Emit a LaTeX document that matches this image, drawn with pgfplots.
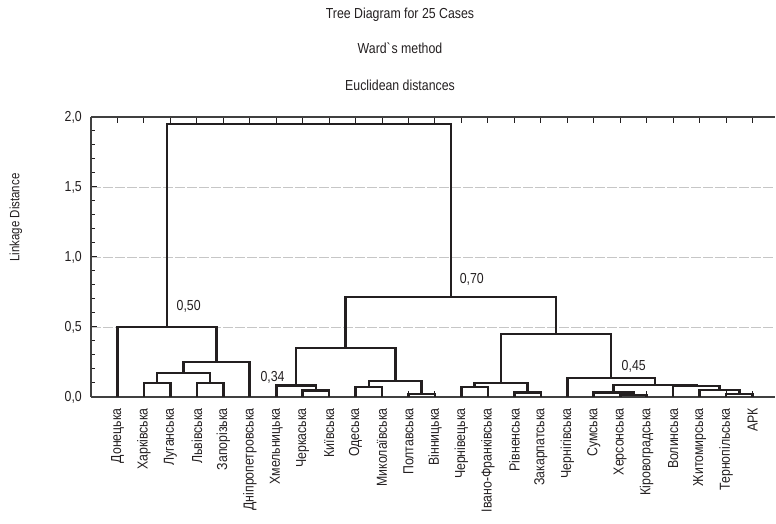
\documentclass[border=0pt]{standalone}
\usepackage{pgfplots}
\pgfplotsset{compat=1.18}
\usepackage{fontspec}
\setmainfont{Liberation Sans}[FakeStretch=0.85]
\definecolor{ink}{HTML}{231F20}
\begin{document}
\begin{tikzpicture}[font=\fontsize{14.5}{17}\selectfont]
\path[use as bounding box] (-91pt,-127pt) rectangle (685pt,397pt);
\begin{axis}[
  at={(0,0)}, anchor=south west,
  scale only axis, width=684pt, height=280pt,
  xmin=-1, xmax=24.85, ymin=0, ymax=2,
  axis y line*=left, axis x line*=box,
  clip=false,
  xtick={0,...,24},
  xticklabels={Донецька,Харківська,Луганська,Львівська,Запорізька,Дніпропетровська,Хмельницька,Черкаська,Київська,Одеська,Миколаївська,Полтавська,Вінницька,Чернівецька,Івано-Франківська,Рівненська,Закарпатська,Чернігівська,Сумська,Херсонська,Кіровоградська,Волинська,Житомирська,Тернопільська,АРК},
  xticklabel style={rotate=90, anchor=east, inner xsep=11pt, inner ysep=0pt, text=ink},
  ytick={0,0.5,1,1.5,2},
  minor y tick num=4,
  /pgf/number format/assume math mode=true,
  yticklabel style={/pgf/number format/fixed, /pgf/number format/fixed zerofill,
    /pgf/number format/precision=1, /pgf/number format/use comma,
    inner xsep=0pt, xshift=-9pt, text=ink},
  major tick length=6pt, minor tick length=4pt,
  tick style={color=ink, line width=1pt},
  ymajorgrids,
  major grid style={dash pattern=on 10pt off 2pt, color=gray!45, line width=0.8pt},
  axis line style={color=black!75, line width=1.3pt},
]
\addplot[ink, line width=2.6pt] coordinates {(1,0)(1,0.10)(2,0.10)(2,0)};
\addplot[ink, line width=2.6pt] coordinates {(3,0)(3,0.10)(4,0.10)(4,0)};
\addplot[ink, line width=2.6pt] coordinates {(1.5,0.10)(1.5,0.17)(3.5,0.17)(3.5,0.10)};
\addplot[ink, line width=2.6pt] coordinates {(2.5,0.17)(2.5,0.25)(5,0.25)(5,0)};
\addplot[ink, line width=2.6pt] coordinates {(0,0)(0,0.50)(3.75,0.50)(3.75,0.25)};
\addplot[ink, line width=2.6pt] coordinates {(7,0)(7,0.045)(8,0.045)(8,0)};
\addplot[ink, line width=2.6pt] coordinates {(6,0)(6,0.08)(7.5,0.08)(7.5,0.045)};
\addplot[ink, line width=2.6pt] coordinates {(9,0)(9,0.07)(10,0.07)(10,0)};
\addplot[ink, line width=2.6pt] coordinates {(11,0)(11,0.02)(12,0.02)(12,0)};
\addplot[ink, line width=2.6pt] coordinates {(9.5,0.07)(9.5,0.115)(11.5,0.115)(11.5,0.02)};
\addplot[ink, line width=2.6pt] coordinates {(6.75,0.08)(6.75,0.35)(10.5,0.35)(10.5,0.115)};
\addplot[ink, line width=2.6pt] coordinates {(13,0)(13,0.07)(14,0.07)(14,0)};
\addplot[ink, line width=2.6pt] coordinates {(15,0)(15,0.03)(16,0.03)(16,0)};
\addplot[ink, line width=2.6pt] coordinates {(13.5,0.07)(13.5,0.10)(15.5,0.10)(15.5,0.03)};
\addplot[ink, line width=2.6pt] coordinates {(19,0)(19,0.015)(20,0.015)(20,0)};
\addplot[ink, line width=2.6pt] coordinates {(18,0)(18,0.033)(19.5,0.033)(19.5,0.015)};
\addplot[ink, line width=2.6pt] coordinates {(23,0)(23,0.02)(24,0.02)(24,0)};
\addplot[ink, line width=2.6pt] coordinates {(22,0)(22,0.05)(23.5,0.05)(23.5,0.02)};
\addplot[ink, line width=2.6pt] coordinates {(21,0)(21,0.078)(22.75,0.078)(22.75,0.05)};
\addplot[ink, line width=2.6pt] coordinates {(18.75,0.033)(18.75,0.086)(21.875,0.086)(21.875,0.078)};
\addplot[ink, line width=2.6pt] coordinates {(17,0)(17,0.135)(20.3125,0.135)(20.3125,0.086)};
\addplot[ink, line width=2.6pt] coordinates {(14.5,0.10)(14.5,0.45)(18.65625,0.45)(18.65625,0.135)};
\addplot[ink, line width=2.6pt] coordinates {(8.625,0.35)(8.625,0.715)(16.578,0.715)(16.578,0.45)};
\addplot[ink, line width=2.6pt] coordinates {(1.875,0.50)(1.875,1.95)(12.6016,1.95)(12.6016,0.715)};
\node[anchor=west, inner sep=0pt, text=ink] at (axis cs:2.23,0.65) {0,50};
\node[anchor=west, inner sep=0pt, text=ink] at (axis cs:5.40,0.143) {0,34};
\node[anchor=west, inner sep=0pt, text=ink] at (axis cs:12.93,0.843) {0,70};
\node[anchor=west, inner sep=0pt, text=ink] at (axis cs:19.05,0.221) {0,45};
\end{axis}
\node[text=ink] at (309pt,382pt) {Tree Diagram for 25 Cases};
\node[text=ink] at (309pt,349pt) {Ward\textasciigrave s method};
\node[text=ink] at (309pt,312pt) {Euclidean distances};
\node[rotate=90, text=ink, font=\fontsize{13.5}{16}\selectfont] at (-75pt,179.5pt) {Linkage Distance};
\end{tikzpicture}
\end{document}
